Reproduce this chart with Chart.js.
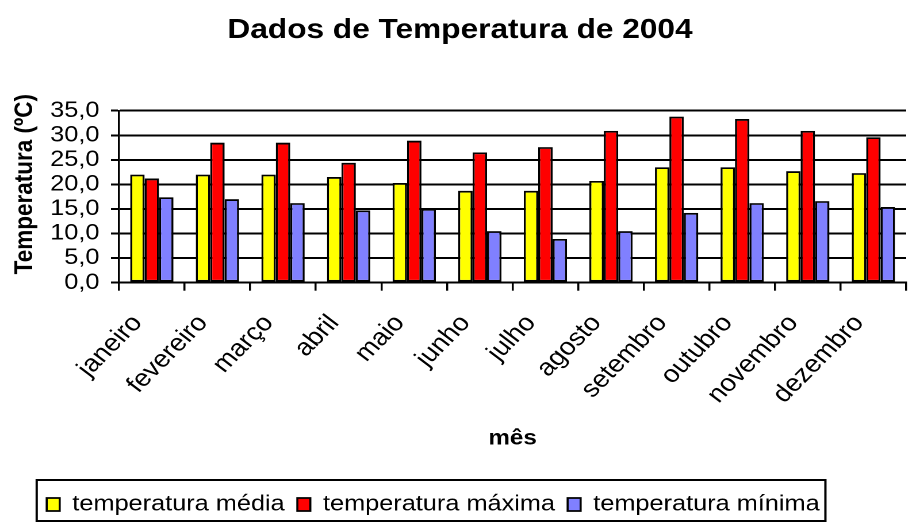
<!DOCTYPE html>
<html>
<head>
<meta charset="utf-8">
<title>Dados de Temperatura de 2004</title>
<script src="https://cdn.jsdelivr.net/npm/chart.js@4/dist/chart.umd.min.js"></script>
<style>
  html, body { margin: 0; padding: 0; background: #fff; overflow: hidden; }
  /* o original tem o texto esticado na horizontal */
  #wrap { width: 800px; height: 523px; transform: scaleX(1.15); transform-origin: 0 0; }
</style>
</head>
<body>
<div id="wrap"><canvas id="grafico" width="800" height="523" style="width:800px;height:523px"></canvas></div>
<script>
// dados
const meses = ['janeiro', 'fevereiro', 'março', 'abril', 'maio', 'junho',
               'julho', 'agosto', 'setembro', 'outubro', 'novembro', 'dezembro'];
const tempMedia  = [22.0, 22.0, 22.0, 21.5, 20.3, 18.7, 18.7, 20.7, 23.5, 23.5, 22.7, 22.3];
const tempMaxima = [21.2, 28.5, 28.5, 24.4, 28.9, 26.5, 27.6, 30.9, 33.8, 33.3, 30.9, 29.6];
const tempMinima = [17.4, 17.0, 16.2, 14.7, 15.0, 10.5, 8.9, 10.5, 14.2, 16.2, 16.6, 15.4];
const rotulosY = ['0,0', '5,0', '10,0', '15,0', '20,0', '25,0', '30,0', '35,0'];

Chart.defaults.font.family = "'Liberation Sans', Arial, sans-serif";
Chart.defaults.color = '#000';

// moldura da legenda + deslocamento
const molduraLegenda = {
    id: 'molduraLegenda',
    afterLayout(chart) {
        const lg = chart.legend;
        lg.left += 29.6;
        lg.right += 29.6;
        lg.top += 2.5;
        lg.bottom += 2.5;
    },
    afterDraw(chart) {
        const caixas = chart.legend.legendHitBoxes;
        if (!caixas || !caixas.length) return;
        const a = caixas[0], b = caixas[caixas.length - 1];
        const x1 = a.left - 8.7, x2 = b.left + b.width + 5;
        const y1 = a.top - 13.5, y2 = a.top + a.height + 5.5;
        const ctx = chart.ctx;
        ctx.save();
        ctx.strokeStyle = '#000';
        ctx.lineWidth = 2;
        ctx.strokeRect(x1, y1, x2 - x1, y2 - y1);
        ctx.restore();
    }
};

const serie = (label, data, cor) => ({
    label: label,
    data: data,
    backgroundColor: cor,
    borderColor: '#000',
    borderWidth: 1.8,
    borderSkipped: false,
    categoryPercentage: 0.66,
    barPercentage: 1.0
});

new Chart(document.getElementById('grafico'), {
    type: 'bar',
    data: {
        labels: meses,
        datasets: [
            serie('temperatura média', tempMedia, '#ffff00'),
            serie('temperatura máxima', tempMaxima, '#ff0000'),
            serie('temperatura mínima', tempMinima, '#8080ff')
        ]
    },
    options: {
        responsive: false,
        animation: false,
        devicePixelRatio: 2,
        layout: { padding: { bottom: 0 } },
        scales: {
            x: {
                grid: { drawOnChartArea: false, color: '#000', lineWidth: 1.75, tickLength: 8, offset: true },
                border: { color: '#000', width: 2 },
                ticks: { font: { size: 24 }, minRotation: 49, maxRotation: 49, autoSkip: false, padding: 18.8, labelOffset: -12.5 },
                title: { display: true, text: 'mês', font: { size: 21, weight: 'bold' }, padding: { top: 0, bottom: 28.7 } },
                afterFit: s => { s.height = 197.3; }
            },
            y: {
                min: 0,
                max: 35,
                grid: { color: '#000', lineWidth: 2, tickLength: 7 },
                border: { color: '#000', width: 1.75 },
                ticks: { stepSize: 5, autoSkip: false, font: { size: 22 }, padding: 10, callback: (v, i) => rotulosY[i] },
                title: { display: true, text: '    Temperatura (ºC)', font: { size: 22.5, weight: 'bold' }, padding: { top: 8.3, bottom: 0 } },
                afterFit: s => { s.width = 103.5; }
            }
        },
        plugins: {
            title: {
                display: true,
                text: 'Dados de Temperatura de 2004',
                font: { size: 27.5, weight: 'bold' },
                padding: { top: 13.8, bottom: 63.9 }
            },
            legend: {
                position: 'bottom',
                align: 'start',
                labels: { font: { size: 22 }, boxWidth: 11.3, boxHeight: 13, padding: 11 }
            },
            tooltip: { enabled: false }
        }
    },
    plugins: [molduraLegenda]
});
</script>
</body>
</html>
